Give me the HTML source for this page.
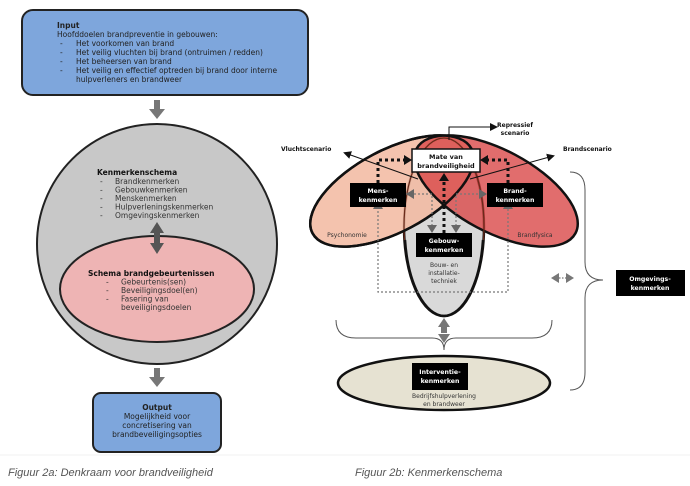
<!DOCTYPE html>
<html><head><meta charset="utf-8"><style>
body{margin:0;background:#fff;}
svg{display:block;font-family:"DejaVu Sans","Liberation Sans",sans-serif;}
</style></head><body>
<svg width="690" height="486" viewBox="0 0 690 486" xmlns="http://www.w3.org/2000/svg">
<defs>
<marker id="ah" markerWidth="8" markerHeight="8" refX="6" refY="4" orient="auto" markerUnits="userSpaceOnUse"><path d="M0,0 L8,4 L0,8 z" fill="#111"/></marker>
</defs>
<rect x="22" y="10" width="286" height="85" rx="11" fill="#7ea6dc" stroke="#222" stroke-width="2"/>
<g font-size="7.5" fill="#222">
<text x="57" y="28" font-weight="bold">Input</text>
<text x="57" y="37">Hoofddoelen brandpreventie in gebouwen:</text>
<text x="60" y="46">-</text><text x="76" y="46">Het voorkomen van brand</text>
<text x="60" y="55">-</text><text x="76" y="55">Het veilig vluchten bij brand (ontruimen / redden)</text>
<text x="60" y="64">-</text><text x="76" y="64">Het beheersen van brand</text>
<text x="60" y="73">-</text><text x="76" y="73">Het veilig en effectief optreden bij brand door interne</text>
<text x="76" y="82">hulpverleners en brandweer</text>
</g>
<rect x="154" y="100" width="6" height="10" fill="#777"/><path d="M149,109 L165,109 L157,119 z" fill="#777"/>
<circle cx="157" cy="244" r="120" fill="#c8c8c8" stroke="#222" stroke-width="2"/>
<g font-size="7.5" fill="#333">
<text x="97" y="175" font-weight="bold" fill="#111">Kenmerkenschema</text>
<text x="100" y="184">-</text><text x="115" y="184">Brandkenmerken</text>
<text x="100" y="192.5">-</text><text x="115" y="192.5">Gebouwkenmerken</text>
<text x="100" y="201">-</text><text x="115" y="201">Menskenmerken</text>
<text x="100" y="209.5">-</text><text x="115" y="209.5">Hulpverleningskenmerken</text>
<text x="100" y="218">-</text><text x="115" y="218">Omgevingskenmerken</text>
</g>
<ellipse cx="157" cy="289" rx="97" ry="53" fill="#eeb4b4" stroke="#222" stroke-width="2"/>
<path d="M150,233 L157,222 L164,233 z M154,232 h6 v12 h-6z M150,243 L164,243 L157,254 z" fill="#555"/>
<g font-size="7.5" fill="#333">
<text x="88" y="276" font-weight="bold" fill="#111">Schema brandgebeurtenissen</text>
<text x="106" y="284.5">-</text><text x="121" y="284.5">Gebeurtenis(sen)</text>
<text x="106" y="293">-</text><text x="121" y="293">Beveiligingsdoel(en)</text>
<text x="106" y="301.5">-</text><text x="121" y="301.5">Fasering van</text>
<text x="121" y="310">beveiligingsdoelen</text>
</g>
<rect x="154" y="368" width="6" height="10" fill="#777"/><path d="M149,377 L165,377 L157,387 z" fill="#777"/>
<rect x="93" y="393" width="128" height="59" rx="8" fill="#7ea6dc" stroke="#222" stroke-width="2"/>
<g font-size="7.5" fill="#222" text-anchor="middle">
<text x="157" y="410" font-weight="bold">Output</text>
<text x="157" y="419">Mogelijkheid voor</text>
<text x="157" y="428">concretisering van</text>
<text x="157" y="437">brandbeveiligingsopties</text>
</g>
<line x1="0" y1="455" x2="690" y2="455" stroke="#f2f2f2"/>
<g font-family="Liberation Sans,sans-serif" font-style="italic" font-size="11" fill="#555">
<text x="8" y="476">Figuur 2a: Denkraam voor brandveiligheid</text>
<text x="355" y="476">Figuur 2b: Kenmerkenschema</text>
</g>
<ellipse cx="444" cy="227" rx="40" ry="89" fill="#d9d9d9" stroke="#111" stroke-width="2.5"/>
<ellipse cx="392" cy="191" rx="90" ry="41" transform="rotate(-28 392 191)" fill="#f2b9a0" fill-opacity="0.85" stroke="#111" stroke-width="2.5"/>
<ellipse cx="496" cy="191" rx="90" ry="41" transform="rotate(28 496 191)" fill="#d94848" fill-opacity="0.8" stroke="#111" stroke-width="2.5"/>
<ellipse cx="444" cy="227" rx="40" ry="89" fill="none" stroke="#6a2a1a" stroke-width="1.2"/>
<ellipse cx="392" cy="191" rx="90" ry="41" transform="rotate(-28 392 191)" fill="none" stroke="#111" stroke-width="2.5"/>
<path d="M444,316 A40,89 0 0 1 405,240 M444,316 A40,89 0 0 0 483,240" fill="none" stroke="#111" stroke-width="2.5"/>
<ellipse cx="444" cy="383" rx="106" ry="27" fill="#e6e2d2" stroke="#111" stroke-width="2.5"/>
<path d="M378,207 V292 H508 V207" fill="none" stroke="#777" stroke-width="1.2" stroke-dasharray="2,2"/>
<path d="M378,200 l-5,9 h10z M508,200 l-5,9 h10z" fill="#666"/>
<path d="M406,194 H432 V228 M482,194 H456 V228" fill="none" stroke="#777" stroke-width="1.2" stroke-dasharray="2,2"/>
<path d="M406,194 l8,-5 v10z M487,194 l-8,-5 v10z M432,233 l-5,-8 h10z M456,233 l-5,-8 h10z" fill="#666"/>
<path d="M378,183 V160 H406 M508,183 V160 H486" fill="none" stroke="#111" stroke-width="3" stroke-dasharray="3,3"/>
<path d="M412,160 l-8,-5 v10z M480,160 l8,-5 v10z" fill="#111"/>
<path d="M444,233 V180" fill="none" stroke="#111" stroke-width="3" stroke-dasharray="3,3"/>
<path d="M444,173 l-5,8 h10z" fill="#111"/>
<line x1="418" y1="179" x2="345" y2="153" stroke="#111" stroke-width="1" marker-end="url(#ah)"/>
<line x1="470" y1="179" x2="553" y2="156" stroke="#111" stroke-width="1" marker-end="url(#ah)"/>
<path d="M449,140 V127 H496" fill="none" stroke="#111" stroke-width="1" marker-end="url(#ah)"/>
<rect x="412" y="149" width="68" height="23" fill="#fff" stroke="#111" stroke-width="1.5"/>
<g font-size="6.5" font-weight="bold" text-anchor="middle">
<text x="446" y="159" fill="#111">Mate van</text>
<text x="446" y="168" fill="#111">brandveiligheid</text>
</g>
<g fill="#000"><rect x="350" y="183" width="56" height="24"/><rect x="487" y="183" width="56" height="24"/><rect x="416" y="233" width="56" height="24"/><rect x="616" y="270" width="69" height="26"/><rect x="412" y="363" width="56" height="27"/></g>
<g font-size="6.2" font-weight="bold" fill="#fff" text-anchor="middle">
<text x="378" y="193">Mens-</text><text x="378" y="202">kenmerken</text>
<text x="515" y="193">Brand-</text><text x="515" y="202">kenmerken</text>
<text x="444" y="243">Gebouw-</text><text x="444" y="252">kenmerken</text>
<text x="650" y="281">Omgevings-</text><text x="650" y="290">kenmerken</text>
<text x="440" y="374">Interventie-</text><text x="440" y="383">kenmerken</text>
</g>
<g font-size="6" fill="#333" text-anchor="middle">
<text x="347" y="237">Psychonomie</text>
<text x="535" y="237">Brandfysica</text>
<text x="444" y="267">Bouw- en</text><text x="444" y="275">installatie-</text><text x="444" y="283">techniek</text>
<text x="444" y="398">Bedrijfshulpverlening</text><text x="444" y="406">en brandweer</text>
</g>
<g font-size="6" font-weight="bold" fill="#111">
<text x="281" y="151">Vluchtscenario</text>
<text x="563" y="151">Brandscenario</text>
<text x="515" y="127" text-anchor="middle">Repressief</text>
<text x="515" y="135" text-anchor="middle">scenario</text>
</g>
<path d="M336,320 Q336,338 356,338 H432 Q444,338 444,350 Q444,338 456,338 H532 Q552,338 552,320" fill="none" stroke="#555" stroke-width="1"/>
<path d="M570,172 Q585,172 585,190 V262 Q585,280 603,280 Q585,280 585,298 V372 Q585,390 570,390" fill="none" stroke="#555" stroke-width="1"/>
<path d="M444,318 l-6,9 h12z M441,327 h6 v6 h-6z M444,343 l-6,-9 h12z" fill="#777"/>
<path d="M551,278 l8,-5 v10z M574,278 l-8,-5 v10z" fill="#777"/>
<line x1="559" y1="278" x2="566" y2="278" stroke="#777" stroke-width="1.2" stroke-dasharray="1.5,1.5"/>
</svg>
</body></html>
